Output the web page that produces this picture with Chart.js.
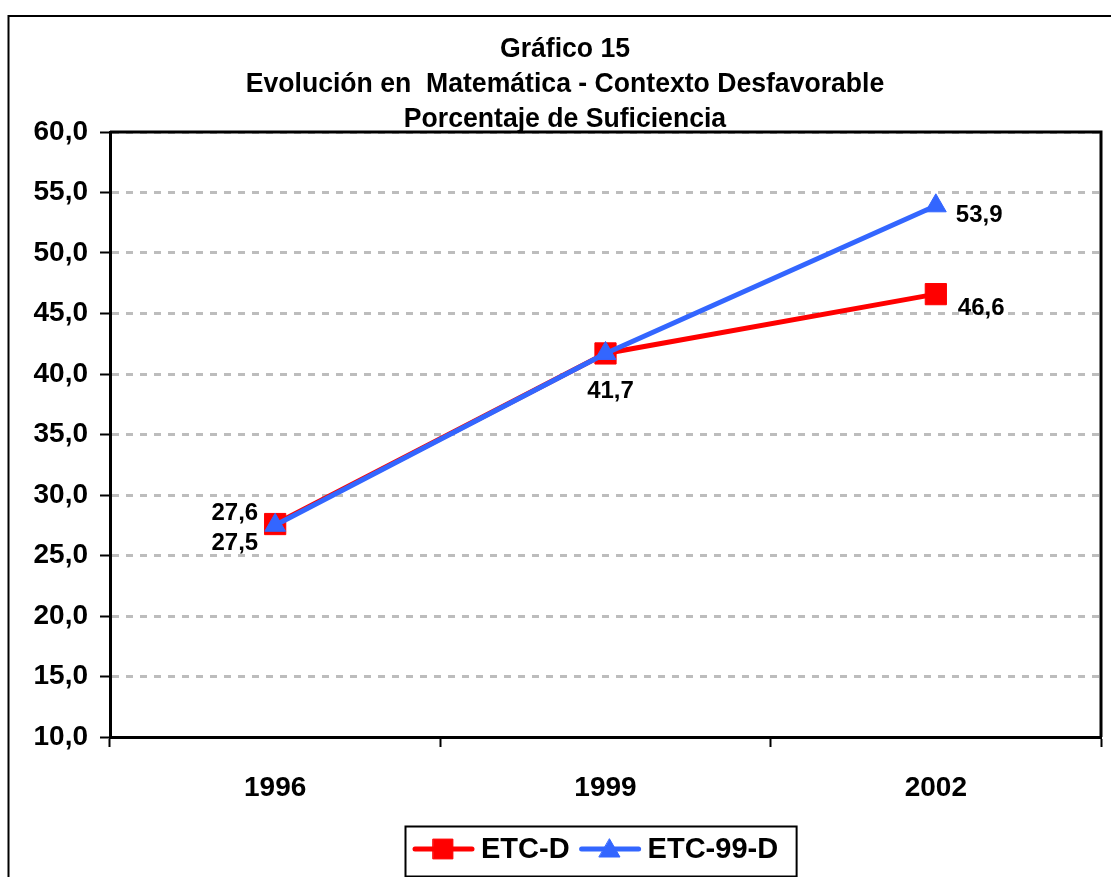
<!DOCTYPE html>
<html>
<head>
<meta charset="utf-8">
<script src="https://cdn.jsdelivr.net/npm/chart.js@4.4.0/dist/chart.umd.min.js"></script>
<style>
  html,body{margin:0;padding:0;background:#fff;overflow:hidden}
  canvas{display:block}
</style>
</head>
<body>
<canvas id="chart" width="1111" height="877"></canvas>
<script>
// Data
const categories = ['1996', '1999', '2002'];
const etcD = [27.6, 41.7, 46.6];
const etc99D = [27.5, 41.7, 53.9];
const seriesNames = ['ETC-D', 'ETC-99-D'];
const titleLines = ['Gráfico 15', 'Evolución en  Matemática - Contexto Desfavorable', 'Porcentaje de Suficiencia'];
const yMin = 10, yMax = 60, yStep = 5;

const FONT = 'Arial, "Liberation Sans", sans-serif';
const RED = '#ff0000', BLUE = '#3366ff';
const fmt = v => v.toFixed(1).replace('.', ',');

// label placement per series / point: [dx, dy, align] or null (hidden)
const labelPlace = [
  [[-17, -11, 'right'], [5, 38, 'center'], [22, 14, 'left']],
  [[-17, 18, 'right'], null, [20, 10, 'left']]
];

// Outer frame, title, plot border
const framePlugin = {
  id: 'frame',
  beforeDraw(chart){
    const {ctx} = chart;
    ctx.save();
    ctx.fillStyle = '#fff';
    ctx.fillRect(0, 0, chart.width, chart.height);
    ctx.strokeStyle = '#000';
    ctx.lineWidth = 2;
    ctx.beginPath();
    ctx.moveTo(8.5, chart.height + 2);
    ctx.lineTo(8.5, 16);
    ctx.lineTo(chart.width + 2, 16);
    ctx.stroke();

    ctx.fillStyle = '#000';
    ctx.textAlign = 'center';
    ctx.textBaseline = 'middle';
    ctx.font = 'bold 28px ' + FONT;
    titleLines.forEach((t, i) => {
      ctx.save();
      ctx.translate(565, 49 + i * 35);
      ctx.scale(0.95, 1);
      ctx.fillText(t, 0, 0);
      ctx.restore();
    });
    ctx.restore();
  },
  beforeDatasetsDraw(chart){
    const {ctx, chartArea:a} = chart;
    ctx.save();
    ctx.strokeStyle = '#000';
    ctx.lineWidth = 3;
    ctx.beginPath();
    ctx.moveTo(a.left, a.top);
    ctx.lineTo(a.right, a.top);
    ctx.lineTo(a.right, a.bottom);
    ctx.stroke();
    ctx.restore();
  }
};

// Data labels
const labelPlugin = {
  id: 'valueLabels',
  afterDatasetsDraw(chart){
    const ctx = chart.ctx;
    ctx.save();
    ctx.fillStyle = '#000';
    ctx.font = 'bold 24px ' + FONT;
    ctx.textBaseline = 'middle';
    chart.data.datasets.forEach((ds, i) => {
      const meta = chart.getDatasetMeta(i);
      meta.data.forEach((pt, j) => {
        const p = labelPlace[i][j];
        if(!p) return;
        ctx.textAlign = p[2];
        ctx.fillText(fmt(ds.data[j]), pt.x + p[0], pt.y + p[1]);
      });
    });
    ctx.restore();
  }
};

// Legend box at the bottom
const legendPlugin = {
  id: 'boxLegend',
  afterDraw(chart){
    const ctx = chart.ctx;
    const left = 405, top = 826, h = 50, cy = 849;
    ctx.save();
    ctx.font = 'bold 29px ' + FONT;
    ctx.textBaseline = 'middle';
    ctx.textAlign = 'left';
    let x = left + 8;
    const items = chart.data.datasets.slice();
    items.sort((a, b) => seriesNames.indexOf(a.label) - seriesNames.indexOf(b.label));
    const parts = [];
    items.forEach((ds, k) => {
      const tw = ctx.measureText(ds.label).width;
      parts.push({ds, x, tw});
      x += 61 + 7 + tw + (k < items.length - 1 ? 10 : 0);
    });
    const w = x + 18 - left;
    ctx.fillStyle = '#fff';
    ctx.fillRect(left, top, w, h);
    ctx.strokeStyle = '#000';
    ctx.lineWidth = 2;
    ctx.strokeRect(left + 0.5, top + 0.5, w, h);
    parts.forEach(({ds, x}) => {
      ctx.strokeStyle = ds.borderColor;
      ctx.lineWidth = 5;
      ctx.lineCap = 'round';
      ctx.beginPath();
      ctx.moveTo(x + 2, cy);
      ctx.lineTo(x + 59, cy);
      ctx.stroke();
      ctx.fillStyle = ds.pointBackgroundColor;
      ctx.strokeStyle = ds.pointBorderColor;
      ctx.lineWidth = 1;
      const r = ds.pointStyle === 'rect' ? 14 : 12;
      Chart.helpers.drawPoint(ctx, {pointStyle: ds.pointStyle, radius: r, borderWidth: 1}, x + 30, ds.pointStyle === 'rect' ? cy : cy + 2);
      ctx.fillStyle = '#000';
      ctx.fillText(ds.label, x + 68, cy + 1);
    });
    ctx.restore();
  }
};

new Chart(document.getElementById('chart'), {
  type: 'line',
  data: {
    labels: categories,
    datasets: [
      {
        label: seriesNames[0], data: etcD, order: 2,
        borderColor: RED, backgroundColor: RED,
        pointBackgroundColor: RED, pointBorderColor: RED,
        borderWidth: 5, pointStyle: 'rect', pointRadius: 15, pointBorderWidth: 1,
        tension: 0, clip: false
      },
      {
        label: seriesNames[1], data: etc99D, order: 1,
        borderColor: BLUE, backgroundColor: BLUE,
        pointBackgroundColor: BLUE, pointBorderColor: BLUE,
        borderWidth: 5, pointStyle: 'triangle', pointRadius: 12, pointBorderWidth: 1,
        tension: 0, clip: false
      }
    ]
  },
  options: {
    responsive: false,
    animation: false,
    events: [],
    layout: {autoPadding: false, padding: {top: 132, left: 0, right: 10, bottom: 0}},
    plugins: {legend: {display: false}, title: {display: false}, tooltip: {enabled: false}},
    scales: {
      x: {
        offset: true,
        grid: {offset: true, drawOnChartArea: false, drawTicks: true, tickLength: 10, tickColor: '#000', tickWidth: 2},
        border: {color: '#000', width: 3},
        ticks: {color: '#000', font: {family: FONT, size: 28, weight: 'bold'}, padding: 24, maxRotation: 0},
        afterFit: s => { s.height = 140; s.paddingLeft = 0; s.paddingRight = 0; }
      },
      y: {
        min: yMin, max: yMax,
        ticks: {stepSize: yStep, callback: v => fmt(v), color: '#000', font: {family: FONT, size: 28, weight: 'bold'}, padding: 12},
        grid: {color: '#bdbdbd', lineWidth: 3, tickColor: '#000', tickWidth: 2, tickLength: 10, tickBorderDash: []},
        border: {color: '#000', width: 3, dash: [7, 7]},
        afterFit: s => { s.width = 110; }
      }
    }
  },
  plugins: [framePlugin, labelPlugin, legendPlugin]
});
</script>
</body>
</html>
